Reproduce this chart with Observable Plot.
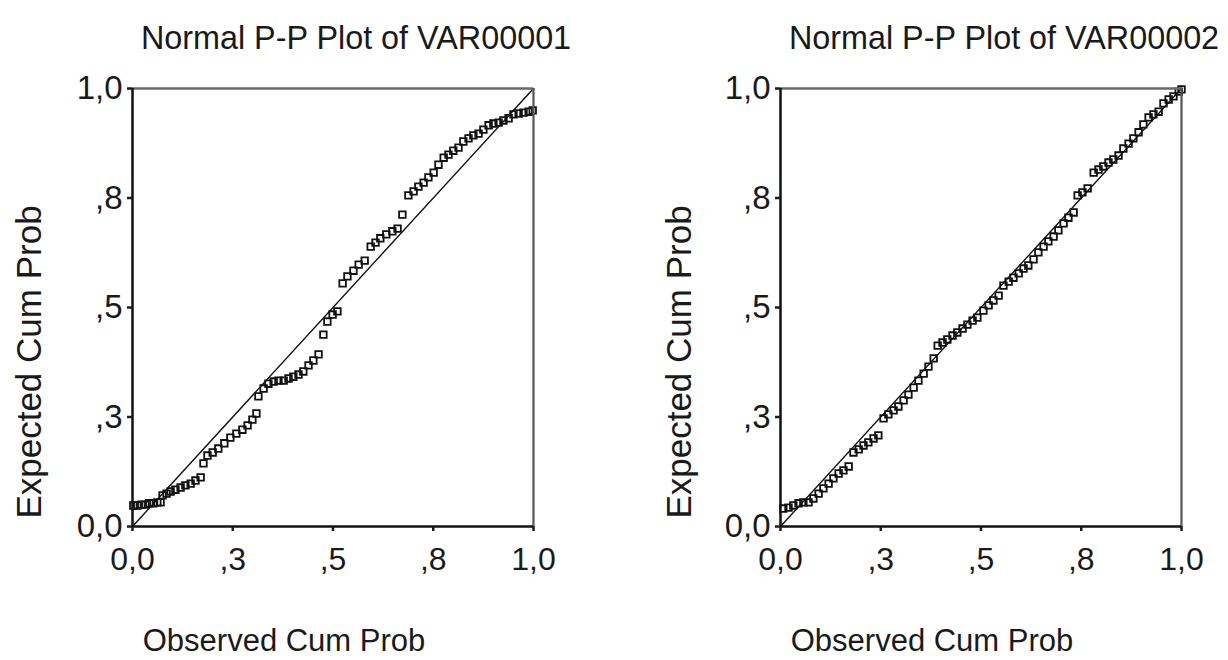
<!DOCTYPE html>
<html><head><meta charset="utf-8">
<script src="https://cdn.jsdelivr.net/npm/d3@7"></script>
<script src="https://cdn.jsdelivr.net/npm/@observablehq/plot@0.6"></script>
<style>
body{margin:0;background:#fff;}
#wrap{position:relative;width:1228px;height:660px;overflow:hidden;font-family:"Liberation Sans",Arial,sans-serif;color:#1a1a1a;background:#fff;}
.panel{position:absolute;top:0;}
.lbl{position:absolute;white-space:nowrap;line-height:1;color:#1a1a1a;}
</style></head><body><div id="wrap"></div>
<script>
// ---- data ----
const titles = ["Normal P-P Plot of VAR00001", "Normal P-P Plot of VAR00002"];
const xLabel = "Observed Cum Prob";
const yLabel = "Expected Cum Prob";
const tickValues = [0, 0.25, 0.5, 0.75, 1];
const tickLabels = ["0,0", ",3", ",5", ",8", "1,0"];
const refLine = [0, 1];

const obs1 = [0.002,0.012,0.022,0.032,0.042,0.052,0.062,0.070,0.075,0.085,0.095,0.107,0.120,0.132,0.145,0.157,0.170,
  0.177,0.187,0.200,0.214,0.229,0.244,0.259,0.274,0.287,0.299,0.309,
  0.314,0.327,0.339,0.352,0.364,0.377,0.389,0.401,0.414,0.426,0.439,0.451,0.464,
  0.476,0.486,0.499,0.511,0.524,0.536,0.551,0.564,0.579,
  0.594,0.606,0.618,0.633,0.648,0.661,0.673,
  0.688,0.701,0.713,0.726,0.738,0.751,0.763,0.776,0.788,0.800,0.813,0.825,0.838,0.850,0.863,0.875,0.888,0.900,0.913,0.925,0.938,0.950,0.963,0.975,0.988,0.998];
const exp1 = [0.048,0.048,0.050,0.050,0.053,0.053,0.055,0.055,0.071,0.075,0.080,0.084,0.089,0.094,0.098,0.105,0.112,
  0.144,0.162,0.169,0.178,0.190,0.203,0.212,0.221,0.231,0.244,0.258,
  0.297,0.315,0.326,0.331,0.333,0.333,0.338,0.342,0.347,0.354,0.368,0.379,0.393,
  0.438,0.468,0.484,0.491,0.555,0.571,0.584,0.598,0.607,
  0.639,0.648,0.658,0.667,0.674,0.680,0.712,
  0.756,0.765,0.776,0.785,0.797,0.808,0.826,0.842,0.849,0.858,0.865,0.879,0.886,0.893,0.897,0.906,0.916,0.920,0.922,0.927,0.932,0.941,0.943,0.945,0.947,0.950];

const obs2 = [0.007,0.020,0.032,0.045,0.057,0.070,0.082,0.095,0.107,0.120,0.132,0.145,0.157,0.170,
  0.182,0.195,0.207,0.219,0.232,0.244,0.257,0.269,0.282,0.294,0.307,0.319,0.332,0.344,0.357,0.369,0.382,
  0.392,0.404,0.416,0.429,0.441,0.454,0.466,0.479,0.491,0.506,0.519,0.531,0.544,
  0.556,0.569,0.581,0.594,0.606,0.618,0.631,0.643,0.656,0.668,0.681,0.693,0.706,0.718,0.731,
  0.741,0.753,0.766,0.781,0.793,0.805,0.818,0.830,0.843,0.855,0.868,0.880,0.893,0.905,0.918,0.930,0.943,0.955,0.968,0.980,0.993,1.000];
const exp2 = [0.041,0.043,0.048,0.053,0.055,0.055,0.064,0.075,0.087,0.098,0.110,0.121,0.128,0.137,
  0.169,0.176,0.185,0.192,0.201,0.208,0.247,0.256,0.265,0.274,0.288,0.301,0.317,0.333,0.349,0.365,0.384,
  0.413,0.420,0.427,0.436,0.443,0.452,0.461,0.470,0.477,0.493,0.505,0.516,0.527,
  0.550,0.559,0.568,0.578,0.589,0.596,0.610,0.626,0.639,0.651,0.662,0.676,0.692,0.705,0.717,
  0.756,0.763,0.772,0.808,0.815,0.822,0.831,0.838,0.847,0.863,0.874,0.886,0.900,0.918,0.934,0.941,0.947,0.966,0.975,0.982,0.993,0.998];

// ---- drawing ----
const wrap = document.getElementById("wrap");
const fontFam = '"Liberation Sans", Arial, sans-serif';
const fmt = d => tickLabels[tickValues.indexOf(d)];

const panels = [
  {left: 0, ml: 132, mr: 81, obs: obs1, exp: exp1, title: titles[0], tx: 356, ylx: 28, xlx: 284},
  {left: 614, ml: 166, mr: 47, obs: obs2, exp: exp2, title: titles[1], tx: 1004, ylx: 678, xlx: 932}
];

for (const p of panels) {
  const chart = Plot.plot({
    width: 614, height: 660,
    marginLeft: p.ml, marginRight: p.mr, marginTop: 88, marginBottom: 134,
    style: {fontFamily: fontFam, fontSize: "32px", color: "#1a1a1a", background: "transparent", overflow: "visible"},
    x: {domain: [0, 1]},
    y: {domain: [0, 1]},
    marks: [
      Plot.line(refLine, {x: d => d, y: d => d, stroke: "#111", strokeWidth: 1.4}),
      Plot.dot(p.obs, {x: d => d, y: (d, i) => p.exp[i], symbol: "square", r: 3.7, stroke: "#111", strokeWidth: 1.8, fill: "none"}),
      Plot.ruleY([1], {stroke: "#6a6a6a", strokeWidth: 2.5}),
      Plot.ruleX([1], {stroke: "#555", strokeWidth: 2.2}),
      Plot.ruleX([0], {stroke: "#111", strokeWidth: 2.5}),
      Plot.ruleY([0], {stroke: "#111", strokeWidth: 2.5}),
      Plot.axisX({ticks: tickValues, tickFormat: fmt, tickSize: 5, tickPadding: 16, strokeWidth: 2.5, label: null, fontSize: 32}),
      Plot.axisY({ticks: tickValues, tickFormat: fmt, tickSize: 5, tickPadding: 5, strokeWidth: 2.5, label: null, fontSize: 33})
    ]
  });
  chart.classList.add("panel");
  chart.style.left = p.left + "px";
  wrap.appendChild(chart);

  const t = document.createElement("div");
  t.className = "lbl";
  t.textContent = p.title;
  t.style.cssText += `left:${p.tx}px;top:37px;font-size:33px;transform:translate(-50%,-50%) scaleX(0.98);`;
  wrap.appendChild(t);

  const yl = document.createElement("div");
  yl.className = "lbl";
  yl.textContent = yLabel;
  yl.style.cssText += `left:${p.ylx}px;top:362px;font-size:35px;transform:translate(-50%,-50%) rotate(-90deg);`;
  wrap.appendChild(yl);

  const xl = document.createElement("div");
  xl.className = "lbl";
  xl.textContent = xLabel;
  xl.style.cssText += `left:${p.xlx}px;top:640px;font-size:31px;transform:translate(-50%,-50%);`;
  wrap.appendChild(xl);
}
</script>
</body></html>
